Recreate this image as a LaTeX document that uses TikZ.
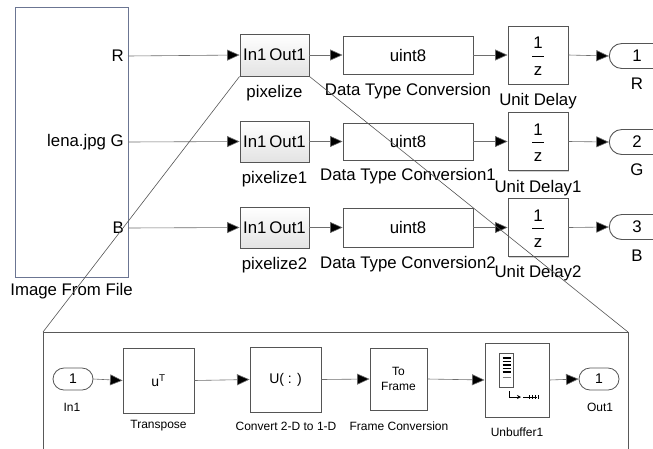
\documentclass[tikz,border=0pt]{standalone}
\usepackage{fontspec}
\setmainfont{Liberation Sans}
\usetikzlibrary{arrows.meta,shapes.misc,shadows,calc}
\definecolor{bord}{HTML}{555555}
\definecolor{wirec}{HTML}{6E6E6E}
\definecolor{imgb}{HTML}{6B7592}
\tikzset{
  blk/.style={draw=bord,fill=white,line width=0.9pt,rectangle,inner sep=0pt,
    general shadow={fill=gray!35,shadow xshift=1.2pt,shadow yshift=-1.2pt}},
  pix/.style={blk,top color=white,bottom color=gray!22},
  wire/.style={draw=wirec,line width=0.6pt,-{Triangle[length=12.5pt,width=11pt,fill=black]}},
  zline/.style={draw=bord,line width=0.6pt},
  outp/.style={draw=bord,fill=white,line width=0.9pt,rounded rectangle,rounded rectangle right arc=none,
    minimum width=54pt,minimum height=25pt,inner sep=0pt},
  port/.style={draw=bord,fill=white,line width=0.8pt,rounded rectangle,minimum width=40pt,minimum height=22pt,inner sep=0pt},
  big/.style={font=\fontsize{16.8}{18}\selectfont,inner sep=0pt},
  small/.style={font=\fontsize{12}{14}\selectfont,inner sep=0pt},
  mid/.style={font=\fontsize{14}{16}\selectfont,inner sep=0pt},
}
\begin{document}
\begin{tikzpicture}[x=1pt,y=-1pt]
\useasboundingbox (0,0) rectangle (653,448);
\fill[white] (0,0) rectangle (653,448);
% zoom lines
\coordinate (zl) at (43,332);
\coordinate (zr) at (628,332);
% Image From File
\node[draw=imgb,fill=white,line width=1pt,minimum width=113pt,minimum height=270pt,inner sep=0pt] (img) at (71.5,142) {};
\node[big,anchor=east] (pR) at (124,56) {R};
\node[big,anchor=east] (pG) at (124,142) {lena.jpg G};
\node[big,anchor=east] (pB) at (124,228) {B};
\node[big] (limg) at (71.5,291) {Image From File};
\coordinate (oR) at (128,56);
\coordinate (oG) at (128,142);
\coordinate (oB) at (128,228);
% pixelize
\node[pix,minimum width=69pt,minimum height=42pt,big] (p1) at (274.5,55) {In1\,Out1};
\node[pix,minimum width=69pt,minimum height=41pt,big] (p2) at (274.5,141.5) {In1\,Out1};
\node[pix,minimum width=69pt,minimum height=41pt,big] (p3) at (274.5,227.5) {In1\,Out1};
\node[big] (lp1) at (274.5,93) {pixelize};
\node[big] (lp2) at (274.5,179) {pixelize1};
\node[big] (lp3) at (274.5,265) {pixelize2};
% DTC
\node[blk,minimum width=130pt,minimum height=38pt,big] (d1) at (408,55) {uint8};
\node[blk,minimum width=130pt,minimum height=37pt,big] (d2) at (408,141.5) {uint8};
\node[blk,minimum width=130pt,minimum height=39pt,big] (d3) at (408,227.5) {uint8};
\node[big] (ld1) at (408,91) {Data Type Conversion};
\node[big] (ld2) at (408,176) {Data Type Conversion1};
\node[big] (ld3) at (408,264) {Data Type Conversion2};
% Unit delays
\foreach \i/\y/\ly/\nm in {1/55/101/{Unit Delay},2/141.5/188/{Unit Delay1},3/227.5/273/{Unit Delay2}}{
  \node[blk,minimum width=60pt,minimum height=58pt] (u\i) at (538,\y) {};
  \node[big] (un\i) at (538,\y-12) {1};
  \node[big] (uz\i) at (538,\y+16) {z};
  \draw[line width=1pt] ($(u\i.center)+(-6,1)$) -- ($(u\i.center)+(6,1)$);
  \node[big] (lu\i) at (538,\ly) {\nm};
}
% outports
\node[outp,big] (o1) at (637,56) {1};
\node[outp,big] (o2) at (637,142) {2};
\node[outp,big] (o3) at (637,227) {3};
\node[big] (lo1) at (637,84) {R};
\node[big] (lo2) at (637,170) {G};
\node[big] (lo3) at (637,256) {B};
% wires top
\draw[wire] (oR) -- (p1.west);
\draw[wire] (oG) -- (p2.west);
\draw[wire] (oB) -- (p3.west);
\foreach \i in {1,2,3}{
  \draw[wire] (p\i.east) -- (d\i.west);
  \draw[wire] (d\i.east) -- (u\i.west);
  \draw[wire] (u\i.east) -- (o\i.west);
}
% zoom lines
\draw[zline] (p1.south west) -- (zl);
\draw[zline] (p1.south east) -- (zr);
% subsystem box
\draw[draw=gray!70!black,line width=0.9pt,fill=white] (43,460) -- (zl) -- (zr) -- (628,460);
% bottom blocks
\node[port,mid] (in1) at (73,379) {1};
\node[small] (lin1) at (72,407) {In1};
\node[blk,minimum width=71pt,minimum height=65pt,mid] (tr) at (158.5,380.5) {u$^{\mathrm{T}}$};
\node[small] (ltr) at (158.5,426) {Transpose};
\node[blk,minimum width=71pt,minimum height=65pt,mid] (cv) at (285.5,379.5) {U( : )};
\node[small] (lcv) at (286,426) {Convert 2-D to 1-D};
\node[blk,minimum width=57pt,minimum height=62pt,small,align=center] (fc) at (398.5,379) {To\\[1pt]Frame};
\node[small] (lfc) at (399,426) {Frame Conversion};
\node[blk,minimum width=64pt,minimum height=74pt] (ub) at (517,380) {};
\node[small] (lub) at (517,432) {Unbuffer1};
\node[port,mid] (out1) at (599,379) {1};
\node[small] (lout1) at (600,407) {Out1};
% unbuffer icon
\draw[line width=0.8pt,draw=bord] (499,353) rectangle (513,387);
\foreach \yy in {358,361.5,365,368.5,372}{\draw[line width=1.1pt] (502.5,\yy) -- (510.5,\yy);}
\draw[line width=0.8pt,draw=gray] (502.5,377) -- (510.5,377);
\draw[line width=0.8pt,-{Stealth[length=4pt,width=4pt]}] (509,391) -- (509,397) -- (521,397);
\draw[line width=0.8pt] (523,397) -- (537,397);
\foreach \xx in {529,532,535,538}{\draw[line width=0.7pt] (\xx,395) -- (\xx,399);}
% bottom wires
\draw[wire] (in1.east) -- (tr.west);
\draw[wire] (tr.east) -- (cv.west);
\draw[wire] (cv.east) -- (fc.west);
\draw[wire] (fc.east) -- (ub.west);
\draw[wire] (ub.east) -- (out1.west);
\end{tikzpicture}
\end{document}
